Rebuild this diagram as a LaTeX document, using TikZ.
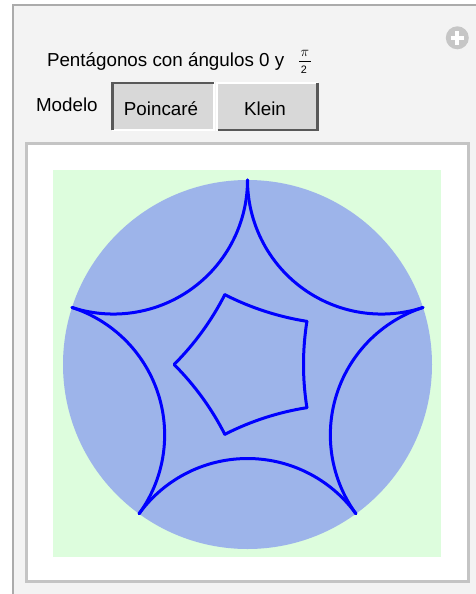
\documentclass[tikz,border=0pt]{standalone}
\usepackage{fontspec}
\setmainfont{Liberation Sans}
\definecolor{panelbg}{HTML}{F3F3F3}
\definecolor{panelline}{HTML}{ABABAB}
\definecolor{frameline}{HTML}{C4C4C4}
\definecolor{greenbg}{HTML}{DDFDDD}
\definecolor{diskcol}{HTML}{9DB4EA}
\definecolor{btnfill}{HTML}{D8D8D8}
\definecolor{btndark}{HTML}{585858}
\definecolor{iconcol}{HTML}{C6C6C6}
\definecolor{geocol}{HTML}{0000FF}
\tikzset{
  lbl/.style={inner sep=0pt, outer sep=0pt, font=\fontsize{18.8}{22}\selectfont},
  geod/.style={draw=geocol, line width=3pt, line join=round, line cap=round},
}
\begin{document}
\begin{tikzpicture}[x=1pt,y=-1pt]
\useasboundingbox (0,0) rectangle (475,594);
% outer panel
\fill[panelbg] (12,4) rectangle (480,600);
\draw[panelline, line width=2.5pt] (13,600) -- (13,5) -- (480,5);
% plus icon
\fill[iconcol] (457.3,37.8) circle[radius=11.5];
\draw[white, line width=4pt] (450.5,37.8) -- (464.1,37.8) (457.3,31) -- (457.3,44.6);
% title
\node[lbl, anchor=base west] (title) at (47,66.7) {Pentágonos con ángulos 0 y};
\node[inner sep=0pt, font=\fontsize{15}{15}\selectfont] (pi) at (304.8,53.2) {$\pi$};
\node[inner sep=0pt, font=\fontsize{10.8}{10}\selectfont, anchor=base] (two) at (303.8,73.4) {2};
\draw[black, line width=0.9pt] (299,61.2) -- (310.6,61.2);
% model selector
\node[lbl, anchor=base west] (modelo) at (36,111) {Modelo};
\fill[btnfill] (111.7,81.7) rectangle (214.3,130.3);
\draw[white, line width=1.8pt] (111.7,130.3) -- (214.3,130.3) -- (214.3,81.7);
\draw[btndark, line width=2.2pt] (112.5,130.3) -- (112.5,82.6) -- (214.3,82.6);
\node[lbl, anchor=base] (poinc) at (161,115.7) {Poincaré};
\fill[btnfill] (216.7,83.3) rectangle (318.3,131);
\draw[white, line width=1.8pt] (216.7,131) -- (216.7,83.3) -- (318.3,83.3);
\draw[btndark, line width=2.2pt] (217.5,130.1) -- (317.4,130.1) -- (317.4,83.3);
\node[lbl, anchor=base] (klein) at (265,115.7) {Klein};
% plot frame
\fill[white] (25,141.7) rectangle (470,583.3);
\draw[frameline, line width=3.3pt] (26.7,143.4) rectangle (468.3,581.6);
\fill[greenbg] (52.7,170) rectangle (440.7,557.3);
% disk and geodesics
\begin{scope}[shift={(247.5,364.5)}, x=184.5pt, y=184.5pt]
  \fill[diskcol] (0,0) circle[radius=1];
  \foreach \b in {54,126,198,270,342} {
    \draw[geod] (\b+36:1) arc[start angle=\b+126, end angle=\b+234, radius=0.72654];
  }
  \foreach \b in {0,72,144,216,288} {
    \draw[geod] (\b+36:0.39798) arc[start angle=\b+171, end angle=\b+189, radius=1.49533];
  }
\end{scope}
\end{tikzpicture}
\end{document}
